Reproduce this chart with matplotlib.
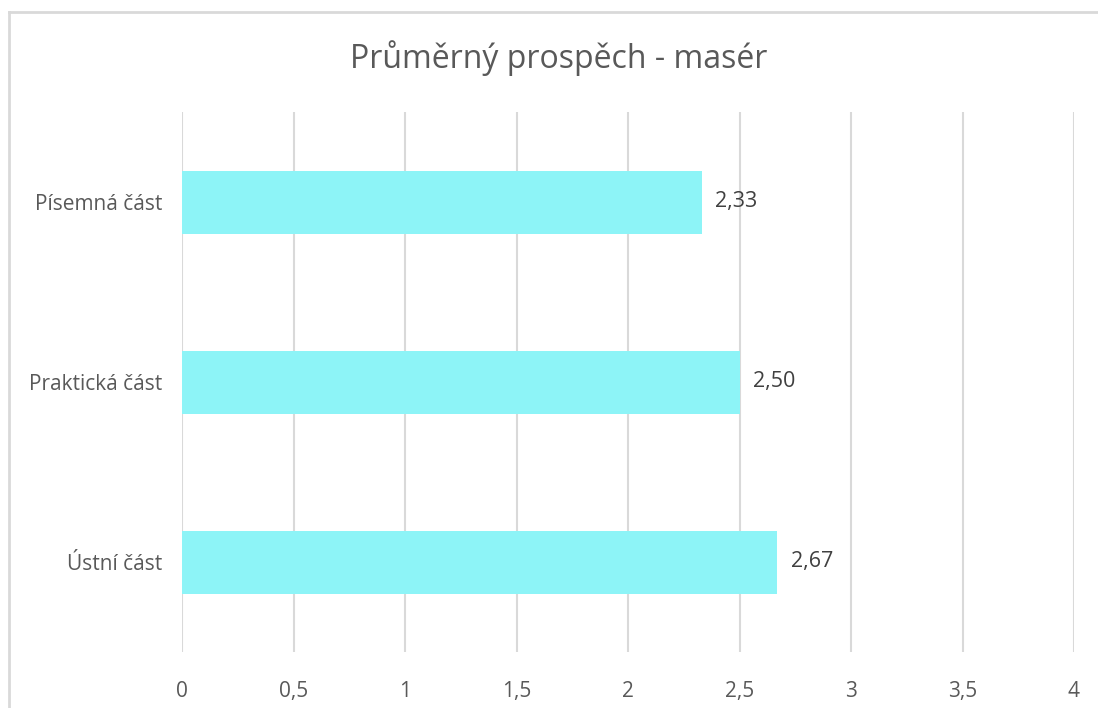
import matplotlib.pyplot as plt
from matplotlib.lines import Line2D

categories = ['Písemná část', 'Praktická část', 'Ústní část']
values = [2.33, 2.50, 2.67]
x_ticks = [0, 0.5, 1, 1.5, 2, 2.5, 3, 3.5, 4]

plt.rcParams['font.family'] = ['Open Sans', 'DejaVu Sans']

fig = plt.figure(figsize=(10.98, 7.08), dpi=100)
ax = fig.add_axes([182 / 1098, 1 - 652 / 708, (1074 - 182) / 1098, 540 / 708])

# kategorie shora dolů
ypos = list(range(len(categories)))
ax.barh(ypos, values, height=0.35, color='#8DF4F7', zorder=2)
for y, v in zip(ypos, values):
    ax.text(v + 0.06, y, f"{v:.2f}".replace('.', ','), va='center', ha='left',
            fontsize=15.5, color='#404040', zorder=3)

ax.set_xlim(0, 4)
ax.set_ylim(len(categories) - 0.5, -0.5)
ax.set_xticks(x_ticks)
ax.set_xticklabels([f"{t:g}".replace('.', ',') for t in x_ticks])
ax.set_yticks(ypos)
ax.set_yticklabels(categories)
ax.tick_params(axis='both', length=0, labelsize=15, labelcolor='#595959')
ax.tick_params(axis='x', pad=21)
ax.tick_params(axis='y', pad=14)
ax.grid(True, axis='x', color='#D9D9D9', lw=1.5, zorder=0)
for s in ax.spines.values():
    s.set_visible(False)

fig.text(559 / 1098, 1 - 58 / 708, 'Průměrný prospěch - masér', ha='center', va='center',
         fontsize=23, color='#595959')

# rámeček grafu (vpravo a dole oříznutý)
fig.add_artist(Line2D([9 / 1098, 1], [1 - 12 / 708] * 2, color='#D9D9D9', lw=2, transform=fig.transFigure))
fig.add_artist(Line2D([9 / 1098] * 2, [0, 1 - 12 / 708], color='#D9D9D9', lw=2, transform=fig.transFigure))

fig.savefig('out.png', dpi=100)
